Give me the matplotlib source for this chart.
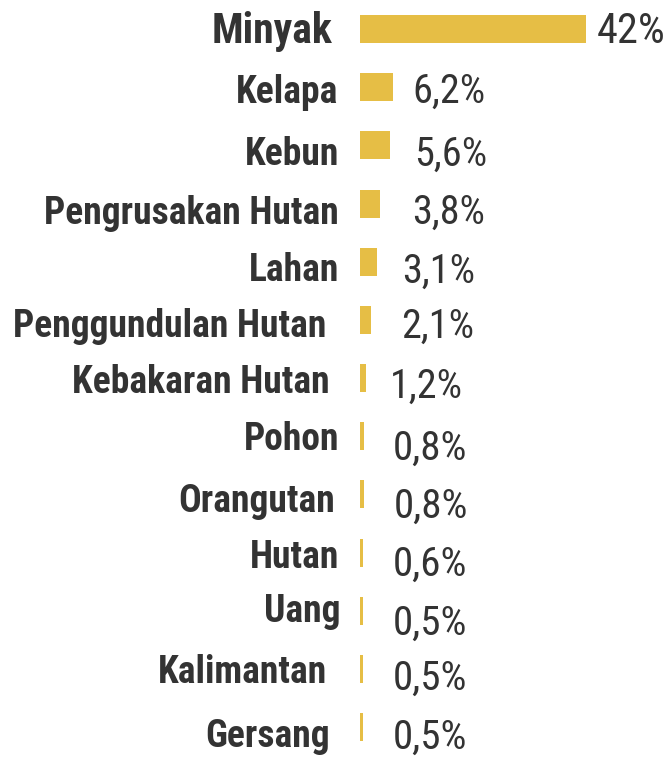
import matplotlib
matplotlib.use("Agg")
import matplotlib.pyplot as plt
from matplotlib import font_manager as fm

# ---- data ----
categories = ["Minyak", "Kelapa", "Kebun", "Pengrusakan Hutan", "Lahan",
              "Penggundulan Hutan", "Kebakaran Hutan", "Pohon", "Orangutan",
              "Hutan", "Uang", "Kalimantan", "Gersang"]
values = [42, 6.2, 5.6, 3.8, 3.1, 2.1, 1.2, 0.8, 0.8, 0.6, 0.5, 0.5, 0.5]
value_labels = ["42%", "6,2%", "5,6%", "3,8%", "3,1%", "2,1%", "1,2%",
                "0,8%", "0,8%", "0,6%", "0,5%", "0,5%", "0,5%"]

# ---- styling (pixel offsets, sizes) ----
label_dx = [-27, -22, -21, -21, -21, -34, -30, -21, -25, -21, -20, -33, -30]
label_base = [14, 16, 20, 20, 19, 17, 15, 14, 18, 15, 11, 14, 20]
label_size = [30, 27, 27, 27, 27, 27, 27, 27, 27, 27, 27, 27, 27]
value_dx = [11, 19, 24, 32, 25, 30, 23, 28, 29, 30, 30, 30, 30]
value_base = [14, 16, 20, 20, 21, 18, 20, 24, 23, 23, 24, 21, 22]
value_size = [30.5, 29, 29, 29, 29, 29, 29, 29.5, 29.5, 29.5, 29.5, 29.5, 29.5]

names = {f.name for f in fm.fontManager.ttflist}
stretch = "normal"
family = "DejaVu Sans"
for cand in ["Roboto Condensed", "Liberation Sans Narrow", "Open Sans Condensed"]:
    if cand in names:
        family = cand
        break
else:
    stretch = "condensed"

BAR = "#E6BE45"
TXT = "#333333"
W, H = 669, 757
fig = plt.figure(figsize=(W / 100, H / 100), dpi=100)
x0 = 360
px_per_unit = (586 - 360) / 42.0
ax = fig.add_axes([x0 / W, 0, 1 - x0 / W, 1])
ax.set_xlim(0, (W - x0) / px_per_unit)
row = (727 - 29) / 12.0
ax.set_ylim((H - 29) / row, -29 / row)
ax.axis("off")

ypos = list(range(len(categories)))
ax.barh(ypos, values, height=28 / row, color=BAR, left=0)

for i, (c, v, vl) in enumerate(zip(categories, values, value_labels)):
    ax.annotate(c, xy=(0, i), xytext=(label_dx[i], -label_base[i]),
                textcoords="offset pixels", ha="right", va="baseline",
                fontsize=label_size[i], fontweight="bold", color=TXT,
                family=family, fontstretch=stretch, annotation_clip=False)
    ax.annotate(vl, xy=(v, i), xytext=(value_dx[i], -value_base[i]),
                textcoords="offset pixels", ha="left", va="baseline",
                fontsize=value_size[i], fontweight="normal", color=TXT,
                family=family, fontstretch=stretch, annotation_clip=False)

fig.savefig("out.png", dpi=100)
